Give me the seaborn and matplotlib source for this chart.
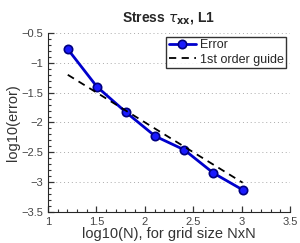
import numpy as np
import pandas as pd
import seaborn as sns
import matplotlib.pyplot as plt
from matplotlib.ticker import MultipleLocator

# grid sizes N = 16 ... 1024
log_n = [1.204, 1.505, 1.806, 2.107, 2.408, 2.709, 3.010]
log_err = [-0.77, -1.40, -1.83, -2.23, -2.46, -2.85, -3.13]
guide_x = [1.204, 3.010]
guide_y = [-1.20, -3.01]

df = pd.DataFrame({"x": log_n, "y": log_err})
df_guide = pd.DataFrame({"x": guide_x, "y": guide_y})

sns.set_style("ticks")
plt.rcParams["font.family"] = ["Liberation Sans", "DejaVu Sans"]

fig = plt.figure(figsize=(3.0, 2.43), dpi=100)
ax = fig.add_axes([0.16, 0.128, 0.807, 0.736])

sns.lineplot(data=df, x="x", y="y", ax=ax, color="#0000cc", lw=2,
             marker="o", markersize=6, markerfacecolor="#1a1aff",
             markeredgecolor="#000080", markeredgewidth=1.2, label="Error")
sns.lineplot(data=df_guide, x="x", y="y", ax=ax, color="black", lw=1.3,
             linestyle=(0, (4, 3)), label="1st order guide")

ax.set_xlim(1, 3.5)
ax.set_ylim(-3.5, -0.5)
ax.xaxis.set_major_locator(MultipleLocator(0.5))
ax.yaxis.set_major_locator(MultipleLocator(0.5))
ax.xaxis.set_minor_locator(MultipleLocator(0.1))
ax.yaxis.set_minor_locator(MultipleLocator(0.1))
ax.xaxis.set_major_formatter(plt.FuncFormatter(lambda v, p: f"{v:g}"))
ax.yaxis.set_major_formatter(plt.FuncFormatter(lambda v, p: f"{v:g}".replace("-", "\u2212")))
ax.tick_params(which="both", direction="in", labelsize=8, colors="#333333", labelcolor="#444444")
ax.tick_params(which="major", length=4, width=0.9)
ax.tick_params(which="minor", length=2.5, width=0.8)
ax.xaxis.grid(False)
ax.yaxis.grid(True, linestyle=(0, (1, 3)), color="#aaaaaa", lw=0.7)
sns.despine(ax=ax)

ax.set_xlabel("log10(N), for grid size NxN", fontsize=10.5, color="#333333", labelpad=0)
ax.set_ylabel("log10(error)", fontsize=10.5, color="#333333", labelpad=1)
ax.set_title(r"Stress $\tau_{\mathbf{xx}}$, L1", fontsize=10, fontweight="bold", pad=8)

leg = ax.legend(loc="upper right", fontsize=9, frameon=True, fancybox=False,
                edgecolor="black", borderpad=0.2, handlelength=2.2,
                handletextpad=0.3, labelspacing=0.2, borderaxespad=0.3)
leg.get_frame().set_linewidth(1.0)

fig.savefig("out.png", dpi=100)
